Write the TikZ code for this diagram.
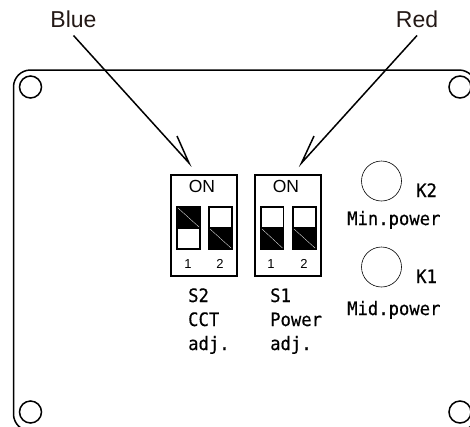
\documentclass[tikz,border=0pt]{standalone}
\usepackage{fontspec}
\setmainfont{Liberation Sans}
\newfontfamily\platefont[FakeStretch=0.93,FakeBold=0.4]{DejaVu Sans Mono}
\definecolor{calloutink}{HTML}{231815}
\tikzset{
    callout/.style={anchor=base, inner sep=0pt, text=calloutink, font=\fontsize{23}{24}\selectfont},
    platetext/.style={anchor=base west, inner sep=0pt, font=\platefont\fontsize{18.5}{20}\selectfont},
    ontext/.style={anchor=base, inner sep=0pt, font=\fontsize{17.5}{18}\selectfont},
    numtext/.style={anchor=base, inner sep=0pt, font=\fontsize{13}{14}\selectfont},
    thick line/.style={line width=1.5pt},
    slider/.style={draw, thick line, fill=black},
    slash/.style={draw=white, line width=0.3pt}
}
\begin{document}
\begin{tikzpicture}[x=1pt, y=-1pt]
    \useasboundingbox (0,0) rectangle (470,426);
    \clip (0,0) rectangle (470,426);

    % plate and fixing holes
    \draw[thick line, rounded corners=17pt] (13.5,70) rectangle (476,431);
    \draw[thick line] (30.5,87) circle (11);
    \draw[thick line] (460,87) circle (11);
    \draw[thick line] (30.5,412) circle (11);
    \draw[thick line] (460,412) circle (11);

    % callouts
    \node[callout] (blue) at (73.5,27) {Blue};
    \node[callout] (red) at (417,27) {Red};
    \coordinate (bluetail) at (73.5,35.5);
    \coordinate (bluetip) at (189,163);
    \coordinate (bluebarb) at (177,136);
    \coordinate (redtail) at (417,35.5);
    \coordinate (redtip) at (301.5,163);
    \coordinate (redbarb) at (314,136);
    \draw[thick line, line join=miter] (bluetail) -- (bluetip) -- (bluebarb);
    \draw[thick line, line join=miter] (redtail) -- (redtip) -- (redbarb);

    % S2
    \draw[thick line] (171,175) rectangle (237,276);
    \node[ontext] (onA) at (202,192.5) {ON};
    \draw[thick line] (177,207) rectangle (200,249);
    \draw[slider] (177,207) rectangle (200,228);
    \draw[slash] (178,208) -- (199,227);
    \draw[thick line] (209,207) rectangle (232,249);
    \draw[slider] (209,228) rectangle (232,249);
    \draw[slash] (210,229) -- (231,248);
    \node[numtext] (numA) at (188,268) {1};
    \node[numtext] (numB) at (220,268) {2};

    % S1
    \draw[thick line] (255,175) rectangle (321,276);
    \node[ontext] (onB) at (286,192.5) {ON};
    \draw[thick line] (261,207) rectangle (283.5,249);
    \draw[slider] (261,228) rectangle (283.5,249);
    \draw[slash] (262,229) -- (282.5,248);
    \draw[thick line] (293,207) rectangle (316,249);
    \draw[slider] (293,228) rectangle (316,249);
    \draw[slash] (294,229) -- (315,248);
    \node[numtext] (numC) at (271,268) {1};
    \node[numtext] (numD) at (304,268) {2};

    % switch captions
    \node[platetext] (sA) at (188,302) {S2};
    \node[platetext] (cct) at (188,326) {CCT};
    \node[platetext] (adjA) at (188,350) {adj.};
    \node[platetext] (sB) at (270,302) {S1};
    \node[platetext] (power) at (270,326) {Power};
    \node[platetext] (adjB) at (270,350) {adj.};

    % buttons
    \draw[line width=0.6pt] (381.5,181) circle (20);
    \draw[line width=0.6pt] (381.5,267) circle (20);
    \node[platetext] (ktwo) at (416,197) {K2};
    \node[platetext] (minp) at (347,225) {Min.power};
    \node[platetext] (kone) at (416,283) {K1};
    \node[platetext] (midp) at (347,315) {Mid.power};
\end{tikzpicture}
\end{document}
